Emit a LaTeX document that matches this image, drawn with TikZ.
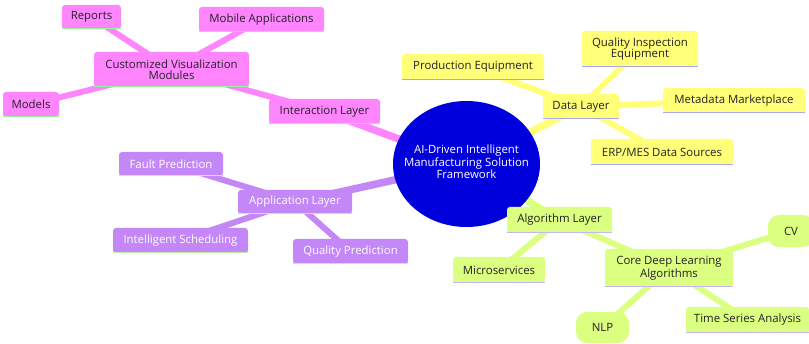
\documentclass[tikz,border=0pt]{standalone}
\usepackage{fontspec}
\setmainfont{Open Sans}
\usetikzlibrary{shapes.geometric}

% section colours
\definecolor{pinkF}{HTML}{FF85FF}
\definecolor{pinkL}{HTML}{9CEE9C}
\definecolor{yellowF}{HTML}{FFFF78}
\definecolor{yellowL}{HTML}{A8A8F0}
\definecolor{purpleF}{HTML}{C387F8}
\definecolor{purpleL}{HTML}{C0F0A8}
\definecolor{greenF}{HTML}{DBFF80}
\definecolor{greenL}{HTML}{C8B4F8}
\definecolor{rootF}{HTML}{0000DC}
\definecolor{txtDark}{HTML}{262026}

\pgfdeclarelayer{bg}
\pgfsetlayers{bg,main}

\begin{document}
\begin{tikzpicture}[x=1pt, y=-1pt,
  lbl/.style={font=\fontsize{11.4}{11.2}\selectfont},
  box/.style={lbl, rectangle, rounded corners=3pt, inner sep=0pt, align=center},
  pill/.style={lbl, rectangle, rounded corners=11pt, inner sep=0pt, align=center},
  sz/.style 2 args={minimum width=#1pt, minimum height=#2pt},
  pinkbox/.style={box, fill=pinkF, text=txtDark},
  yellowbox/.style={box, fill=yellowF, text=txtDark},
  purplebox/.style={box, fill=purpleF, text=white},
  greenbox/.style={box, fill=greenF, text=txtDark},
  greenpill/.style={pill, fill=greenF, text=txtDark},
  rootnode/.style={ellipse, fill=rootF, inner sep=0pt},
  roottext/.style={lbl, text=white, inner sep=0pt, align=center},
  trunk/.style={line width=7.5pt},
  twig/.style={line width=6pt},
  underline/.style={line width=1.5pt}
]
\useasboundingbox (0,0) rectangle (809,344);

% ---- nodes ----
\node[rootnode, minimum width=147pt, minimum height=126pt] (root) at (466.5,164) {};
\node[roottext] (roottxt) at (466.5,162)
  {AI-Driven Intelligent\\Manufacturing Solution\\Framework};

% interaction layer
\node[pinkbox, sz={111}{25}] (int) at (324.5,111.5) {Interaction Layer};
\node[pinkbox, sz={155}{35}] (cvm) at (171.5,69.5) {Customized Visualization\\Modules};
\node[pinkbox, sz={59}{24}]  (rep) at (91.5,17) {Reports};
\node[pinkbox, sz={125}{25}] (mob) at (261.5,19.5) {Mobile Applications};
\node[pinkbox, sz={56}{25}]  (mod) at (31,104.5) {Models};

% data layer
\node[yellowbox, sz={76}{25}]  (data) at (581,106.5) {Data Layer};
\node[yellowbox, sz={142}{26}] (prod) at (473,67) {Production Equipment};
\node[yellowbox, sz={116}{36}] (qie)  at (640,49) {Quality Inspection\\Equipment};
\node[yellowbox, sz={142}{25}] (meta) at (734,100.5) {Metadata Marketplace};
\node[yellowbox, sz={142}{26}] (erp)  at (662,152) {ERP/MES Data Sources};

% application layer
\node[purplebox, sz={114}{24}] (app)   at (295,202) {Application Layer};
\node[purplebox, sz={104}{24}] (fault) at (171,164) {Fault Prediction};
\node[purplebox, sz={135}{25}] (sched) at (180.5,240.5) {Intelligent Scheduling};
\node[purplebox, sz={115}{25}] (qpred) at (350.5,251.5) {Quality Prediction};

% algorithm layer
\node[greenbox, sz={105}{26}] (alg)   at (559.5,220) {Algorithm Layer};
\node[greenbox, sz={92}{26}]  (micro) at (499,270) {Microservices};
\node[greenbox, sz={128}{38}] (core)  at (669,268) {Core Deep Learning\\Algorithms};
\node[greenpill, sz={46}{32}] (cv)    at (791,231) {CV};
\node[greenpill, sz={53}{31}] (nlp)   at (602.5,327.5) {NLP};
\node[greenbox, sz={123}{26}] (tsa)   at (747.5,320) {Time Series Analysis};

% ---- connectors, behind the nodes ----
\begin{pgfonlayer}{bg}
  \draw[trunk, pinkF]   (root.center) -- (int.center);
  \draw[trunk, yellowF] (root.center) -- (data.center);
  \draw[trunk, purpleF] (root.center) -- (app.center);
  \draw[trunk, greenF]  (root.center) -- (alg.center);

  \draw[twig, pinkF] (int.center) -- (cvm.center);
  \draw[twig, pinkF] (cvm.center) -- (rep.center);
  \draw[twig, pinkF] (cvm.center) -- (mob.center);
  \draw[twig, pinkF] (cvm.center) -- (mod.center);

  \draw[twig, yellowF] (data.center) -- (prod.center);
  \draw[twig, yellowF] (data.center) -- (qie.center);
  \draw[twig, yellowF] (data.center) -- (meta.center);
  \draw[twig, yellowF] (data.center) -- (erp.center);

  \draw[twig, purpleF] (app.center) -- (fault.center);
  \draw[twig, purpleF] (app.center) -- (sched.center);
  \draw[twig, purpleF] (app.center) -- (qpred.center);

  \draw[twig, greenF] (alg.center) -- (micro.center);
  \draw[twig, greenF] (alg.center) -- (core.center);
  \draw[twig, greenF] (core.center) -- (cv.center);
  \draw[twig, greenF] (core.center) -- (nlp.center);
  \draw[twig, greenF] (core.center) -- (tsa.center);
\end{pgfonlayer}

% ---- accent strip along the foot of each box ----
\foreach \n/\c in {int/pinkL, cvm/pinkL, rep/pinkL, mob/pinkL, mod/pinkL,
                   data/yellowL, prod/yellowL, qie/yellowL, meta/yellowL, erp/yellowL,
                   app/purpleL, fault/purpleL, sched/purpleL, qpred/purpleL,
                   alg/greenL, micro/greenL, core/greenL, tsa/greenL}
  \draw[underline, \c] ([yshift=0.75pt]\n.south west) -- ([yshift=0.75pt]\n.south east);
\end{tikzpicture}
\end{document}
